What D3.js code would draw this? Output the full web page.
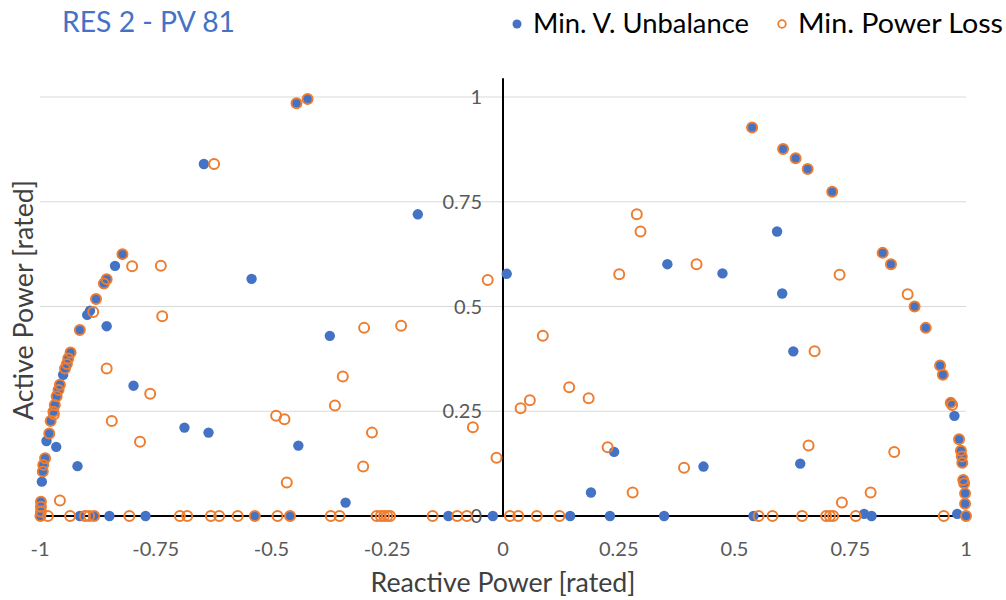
<!DOCTYPE html>
<html>
<head>
<meta charset="utf-8">
<script src="https://cdn.jsdelivr.net/npm/d3@7"></script>
<style>
  html, body { margin: 0; padding: 0; background: #ffffff; }
  svg { display: block; font-family: Lato, "Open Sans", sans-serif; }
</style>
</head>
<body>
<svg id="chart" width="1006" height="600"></svg>
<script>
// Reactive power (x) and active power (y) set-points, both in rated units.
const unbalanceQ = [
  -0.822, -0.838, -0.856, -0.862, -0.879, -0.898, -0.892, -0.856, -0.914, -0.934,
  -0.939, -0.942, -0.946, -0.950, -0.957, -0.960, -0.964, -0.968, -0.971, -0.977,
  -0.980, -0.986, -0.965, -0.989, -0.993, -0.994, -0.996, -0.998, -0.998, -0.998,
  -0.999, -0.919, -0.798, -0.688, -0.636, -0.646, -0.543, -0.446, -0.422, -0.184,
  -0.374, -0.442, -0.340, 0.008,
  -0.914, -0.885, -0.850, -0.772, -0.536, -0.460, -0.118, -0.022,
  0.355, 0.474, 0.538, 0.605, 0.632, 0.658, 0.711, 0.592, 0.820, 0.838,
  0.603, 0.889, 0.913, 0.627, 0.944, 0.950, 0.967, 0.975, 0.985, 0.989,
  0.991, 0.992, 0.994, 0.996, 0.998, 0.998, 1.000, 0.981, 0.240, 0.190,
  0.433, 0.642, 0.780,
  0.145, 0.231, 0.348, 0.541, 0.796
];
const unbalanceP = [
  0.625, 0.597, 0.565, 0.555, 0.518, 0.480, 0.490, 0.453, 0.444, 0.390,
  0.376, 0.363, 0.352, 0.337, 0.313, 0.301, 0.286, 0.265, 0.249, 0.227,
  0.197, 0.179, 0.165, 0.138, 0.122, 0.106, 0.082, 0.034, 0.022, 0.010,
  0.000, 0.119, 0.311, 0.211, 0.199, 0.840, 0.566, 0.985, 0.995, 0.720,
  0.430, 0.168, 0.032, 0.578,
  0, 0, 0, 0, 0, 0, 0, 0,
  0.601, 0.579, 0.927, 0.876, 0.854, 0.828, 0.774, 0.679, 0.628, 0.601,
  0.531, 0.500, 0.449, 0.393, 0.359, 0.337, 0.270, 0.239, 0.183, 0.156,
  0.142, 0.127, 0.086, 0.078, 0.054, 0.029, 0.000, 0.005, 0.153, 0.056,
  0.118, 0.125, 0.005,
  0, 0, 0, 0, 0
];

const lossQ = [
  -0.822, -0.856, -0.862, -0.879, -0.885, -0.914, -0.934, -0.939, -0.942, -0.946,
  -0.957, -0.960, -0.964, -0.968, -0.971, -0.970, -0.977, -0.980, -0.989, -0.993,
  -0.994, -0.998, -0.998, -0.998, -0.999,
  -0.801, -0.739, -0.736, -0.856, -0.762, -0.845, -0.784, -0.957, -0.624, -0.446,
  -0.422, -0.033, -0.300, -0.220, -0.346, -0.363, -0.490, -0.472, -0.283, -0.302,
  -0.467, -0.065, -0.014,
  -0.983, -0.935, -0.903, -0.894, -0.883, -0.807, -0.698, -0.682, -0.631, -0.613,
  -0.573, -0.536, -0.487, -0.460, -0.372, -0.353, -0.273, -0.264, -0.257, -0.250,
  -0.244, -0.152, -0.099, -0.078, 0.015,
  0.289, 0.297, 0.251, 0.418, 0.538, 0.605, 0.632, 0.658, 0.711, 0.820,
  0.838, 0.889, 0.913, 0.944, 0.950, 0.967, 0.970, 0.985, 0.989, 0.991,
  0.992, 0.994, 0.996, 0.998, 0.998, 1.000,
  0.727, 0.874, 0.673, 0.086, 0.143, 0.185, 0.058, 0.038, 0.226, 0.280,
  0.391, 0.660, 0.845, 0.794, 0.732,
  0.033, 0.073, 0.122, 0.552, 0.582, 0.646, 0.698, 0.706, 0.713, 0.762,
  0.952
];
const lossP = [
  0.625, 0.565, 0.555, 0.518, 0.487, 0.444, 0.390, 0.376, 0.363, 0.352,
  0.313, 0.301, 0.286, 0.265, 0.249, 0.243, 0.227, 0.197, 0.138, 0.122,
  0.106, 0.034, 0.022, 0.010, 0.000,
  0.596, 0.597, 0.477, 0.352, 0.292, 0.227, 0.177, 0.037, 0.840, 0.985,
  0.995, 0.563, 0.449, 0.454, 0.333, 0.264, 0.239, 0.231, 0.199, 0.118,
  0.080, 0.212, 0.139,
  0, 0, 0, 0, 0, 0, 0, 0, 0, 0,
  0, 0, 0, 0, 0, 0, 0, 0, 0, 0,
  0, 0, 0, 0, 0,
  0.720, 0.679, 0.577, 0.601, 0.927, 0.876, 0.854, 0.828, 0.774, 0.628,
  0.601, 0.500, 0.449, 0.359, 0.337, 0.270, 0.265, 0.183, 0.156, 0.142,
  0.127, 0.086, 0.078, 0.054, 0.029, 0.000,
  0.576, 0.529, 0.393, 0.430, 0.307, 0.281, 0.276, 0.257, 0.164, 0.056,
  0.115, 0.168, 0.153, 0.056, 0.032,
  0, 0, 0, 0, 0, 0, 0, 0, 0, 0,
  0
];

const xTicks = [-1, -0.75, -0.5, -0.25, 0, 0.25, 0.5, 0.75, 1];
const yTicks = [0, 0.25, 0.5, 0.75, 1];

const chartTitle = "RES 2 - PV 81";
const seriesNames = ["Min. V. Unbalance", "Min. Power Loss"];
const xTitle = "Reactive Power [rated]";
const yTitle = "Active Power [rated]";

const blue = "#4472C4";
const orange = "#ED7D31";

const svg = d3.select("#chart");

const x = d3.scaleLinear().domain([-1, 1]).range([40, 966]);
const y = d3.scaleLinear().domain([0, 1]).range([516, 97]);

// Horizontal gridlines
svg.append("g")
  .selectAll("line")
  .data(yTicks.filter(d => d > 0))
  .join("line")
  .attr("x1", x(-1)).attr("x2", x(1))
  .attr("y1", d => y(d)).attr("y2", d => y(d))
  .attr("stroke", "#D9D9D9").attr("stroke-width", 1);

// Axis lines crossing at the origin
svg.append("line")
  .attr("x1", x(-1)).attr("x2", x(1))
  .attr("y1", y(0)).attr("y2", y(0))
  .attr("stroke", "#000").attr("stroke-width", 2);
svg.append("line")
  .attr("x1", x(0)).attr("x2", x(0))
  .attr("y1", y(0)).attr("y2", y(1.045))
  .attr("stroke", "#000").attr("stroke-width", 2);

// Tick labels
const fmt = d => String(d);
svg.append("g")
  .selectAll("text")
  .data(xTicks)
  .join("text")
  .attr("x", d => x(d))
  .attr("y", 556)
  .attr("text-anchor", "middle")
  .attr("font-size", 20)
  .attr("fill", "#595959")
  .text(fmt);

svg.append("g")
  .selectAll("text")
  .data(yTicks)
  .join("text")
  .attr("x", 482)
  .attr("y", d => y(d) + 7)
  .attr("text-anchor", "end")
  .attr("font-size", 20)
  .attr("fill", "#595959")
  .text(fmt);

// Markers: voltage-unbalance dots first, power-loss rings on top
const unbalance = unbalanceQ.map((q, i) => ({ q, p: unbalanceP[i] }));
const loss = lossQ.map((q, i) => ({ q, p: lossP[i] }));

svg.append("g")
  .selectAll("circle")
  .data(unbalance)
  .join("circle")
  .attr("cx", d => x(d.q))
  .attr("cy", d => y(d.p))
  .attr("r", 5.2)
  .attr("fill", blue);

svg.append("g")
  .selectAll("circle")
  .data(loss)
  .join("circle")
  .attr("cx", d => x(d.q))
  .attr("cy", d => y(d.p))
  .attr("r", 5)
  .attr("fill", "none")
  .attr("stroke", orange)
  .attr("stroke-width", 2);

// Axis titles
svg.append("text")
  .attr("x", 503).attr("y", 592)
  .attr("text-anchor", "middle")
  .attr("font-size", 26)
  .attr("textLength", 265)
  .attr("lengthAdjust", "spacingAndGlyphs")
  .attr("fill", "#404040")
  .text(xTitle);

svg.append("text")
  .attr("transform", "translate(33,300) rotate(-90)")
  .attr("text-anchor", "middle")
  .attr("font-size", 26)
  .attr("textLength", 240)
  .attr("lengthAdjust", "spacingAndGlyphs")
  .attr("fill", "#404040")
  .text(yTitle);

// Title
svg.append("text")
  .attr("x", 62).attr("y", 32)
  .attr("font-size", 28)
  .attr("textLength", 173)
  .attr("lengthAdjust", "spacingAndGlyphs")
  .attr("fill", blue)
  .text(chartTitle);

// Legend
const legend = svg.append("g");
legend.append("circle").attr("cx", 517).attr("cy", 24).attr("r", 4.5).attr("fill", blue);
legend.append("text").attr("x", 533).attr("y", 33).attr("font-size", 27)
  .attr("textLength", 216).attr("lengthAdjust", "spacingAndGlyphs")
  .attr("fill", "#000").text(seriesNames[0]);
legend.append("circle").attr("cx", 782).attr("cy", 24).attr("r", 3.8)
  .attr("fill", "none").attr("stroke", orange).attr("stroke-width", 1.8);
legend.append("text").attr("x", 798).attr("y", 33).attr("font-size", 27)
  .attr("textLength", 205).attr("lengthAdjust", "spacingAndGlyphs")
  .attr("fill", "#000").text(seriesNames[1]);
</script>
</body>
</html>
